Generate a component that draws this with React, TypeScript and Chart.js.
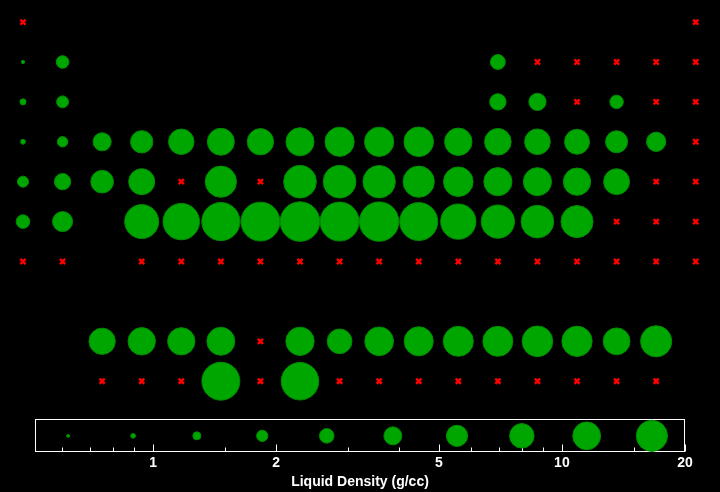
import React, { useEffect, useRef } from "react";
import { Chart, registerables } from "chart.js";

Chart.register(...registerables);

type Cell = number | null | undefined;
const _ = undefined; // empty cell in the table
const X = null; // element without a liquid density (red cross)

// Liquid densities (g/cc) laid out as the periodic table, 18 columns per row
const period1: Cell[] = [X, _, _, _, _, _, _, _, _, _, _, _, _, _, _, _, _, X];
const period2: Cell[] = [0.512, 1.69, _, _, _, _, _, _, _, _, _, _, 2.08, X, X, X, X, X];
const period3: Cell[] = [0.927, 1.584, _, _, _, _, _, _, _, _, _, _, 2.375, 2.57, X, 1.819, X, X];
const period4: Cell[] = [0.828, 1.378, 2.8, 4.11, 5.5, 6.3, 5.95, 6.98, 7.75, 7.81, 8.02, 6.57, 6.095, 5.6, 5.22, 3.99, 3.1028, X];
const period5: Cell[] = [1.46, 2.375, 4.24, 5.8, X, 9.33, X, 10.65, 10.7, 10.38, 9.32, 7.996, 7.02, 6.99, 6.53, 5.7, X, X];
const period6: Cell[] = [1.843, 3.338, _, 12, 15, 17.6, 18.9, 20, 19, 19.77, 17.31, 13.534, 11.22, 10.66, 10.05, X, X, X];
const period7: Cell[] = [X, X, _, X, X, X, X, X, X, X, X, X, X, X, X, X, X, X];
const lanthanides: Cell[] = [_, _, 5.94, 6.55, 6.5, 6.89, X, 7.16, 5.13, 7.4, 7.65, 8.37, 8.34, 8.86, 8.56, 6.21, 9.3, _];
const actinides: Cell[] = [_, _, X, X, X, 17.3, X, 16.63, X, X, X, X, X, X, X, X, X, _];

const tableRows: Cell[][] = [period1, period2, period3, period4, period5, period6, period7, lanthanides, actinides];
const rowNumbers = [1, 2, 3, 4, 5, 6, 7, 9, 10];

// Size legend: densities shown along the log axis
const legendDensities = [0.62, 0.894, 1.28, 1.85, 2.66, 3.86, 5.54, 7.98, 11.5, 16.6];

// Axis ticks and legend box range
const majorTicks = [1, 2, 5, 10, 20];
const minorTicks = [0.6, 0.7, 0.8, 0.9, 1.5, 3, 4, 6, 7, 8, 9, 15];
const boxMin = 0.5145;
const boxMax = 20;
const axisMin = 0.4224;
const axisMax = 24.36;
const axisTitle = "Liquid Density (g/cc)";

const FONT = "'Liberation Sans', Arial, Helvetica, sans-serif";

function radiusFor(d: number): number {
  return Math.max(1.7, 12.52 * Math.log10(d) + 3.47);
}

const framePlugin = {
  id: "frame",
  beforeDatasetsDraw(chart: any) {
    const { ctx } = chart;
    const xs = chart.scales.x;
    const yl = chart.scales.yl;
    ctx.save();
    ctx.strokeStyle = "#ffffff";
    ctx.lineWidth = 1;
    const l = Math.round(xs.getPixelForValue(boxMin)) + 0.5;
    const r = Math.round(xs.getPixelForValue(boxMax)) - 0.5;
    const t = Math.round(yl.getPixelForValue(1)) + 0.5;
    const b = Math.round(yl.getPixelForValue(0)) - 0.5;
    ctx.strokeRect(l, t, r - l, b - t);
    const drawTick = (v: number, len: number) => {
      const px = Math.round(xs.getPixelForValue(v)) + 0.5;
      ctx.beginPath();
      ctx.moveTo(px, b);
      ctx.lineTo(px, b - len);
      ctx.stroke();
    };
    majorTicks.forEach((v) => drawTick(v, 7));
    minorTicks.forEach((v) => drawTick(v, 4));
    ctx.restore();
  },
};

export default function App() {
  const ref = useRef<HTMLCanvasElement | null>(null);

  useEffect(() => {
    if (!ref.current) return;
    const bubbles: { x: number; y: number; r: number }[] = [];
    const crosses: { x: number; y: number }[] = [];
    tableRows.forEach((row, i) => {
      row.forEach((cell, c) => {
        if (cell === undefined) return;
        if (cell === null) crosses.push({ x: c + 1, y: rowNumbers[i] });
        else bubbles.push({ x: c + 1, y: rowNumbers[i], r: radiusFor(cell) });
      });
    });
    const legendPts = legendDensities.map((d) => ({ x: d, y: 0.5, r: Math.max(1.5, 0.83 * radiusFor(d)) }));

    const chart = new Chart(ref.current, {
      type: "bubble",
      data: {
        datasets: [
          {
            label: "density",
            data: bubbles,
            xAxisID: "xg",
            yAxisID: "yg",
            backgroundColor: "#00a600",
            borderColor: "#008c00",
            borderWidth: 1,
            clip: false,
          } as any,
          {
            type: "scatter",
            label: "missing",
            data: crosses,
            xAxisID: "xg",
            yAxisID: "yg",
            pointStyle: "crossRot",
            pointRadius: 3.6,
            pointBorderWidth: 2.5,
            borderColor: "#ff0000",
            backgroundColor: "#ff0000",
            showLine: false,
            clip: false,
          } as any,
          {
            label: "legend",
            data: legendPts,
            xAxisID: "x",
            yAxisID: "yl",
            backgroundColor: "#00a600",
            borderColor: "#008c00",
            borderWidth: 1,
            clip: false,
          } as any,
        ],
      },
      options: {
        animation: false,
        responsive: false,
        layout: { autoPadding: false, padding: { left: 0, right: 0, top: 0, bottom: 0 } },
        plugins: { legend: { display: false }, tooltip: { enabled: false } },
        events: [],
        scales: {
          x: {
            type: "logarithmic",
            position: "bottom",
            min: axisMin,
            max: axisMax,
            grid: { display: false, drawTicks: false, tickLength: 0 },
            border: { display: false },
            afterBuildTicks: (s: any) => {
              s.ticks = majorTicks.map((v) => ({ value: v }));
            },
            ticks: {
              color: "#ffffff",
              padding: 2,
              autoSkip: false,
              maxRotation: 0,
              font: { family: FONT, size: 14, weight: "bold" },
              callback: (v: any) => String(v),
            },
            title: {
              display: true,
              text: axisTitle,
              color: "#ffffff",
              font: { family: FONT, size: 14, weight: "bold" },
              padding: { top: 1, bottom: 1 },
            },
          } as any,
          xg: { type: "linear", display: false, min: 0.419, max: 18.613 },
          yg: { type: "linear", display: false, reverse: true, min: 0.447, max: 11.784 },
          yl: { type: "linear", display: false, min: 0, max: 13.667 },
        },
      },
      plugins: [framePlugin],
    });
    return () => chart.destroy();
  }, []);

  return (
    <div style={{ position: "fixed", left: 0, top: 0, width: 720, height: 492, background: "#000" }}>
      <canvas ref={ref} width={720} height={492} style={{ display: "block" }} />
    </div>
  );
}
